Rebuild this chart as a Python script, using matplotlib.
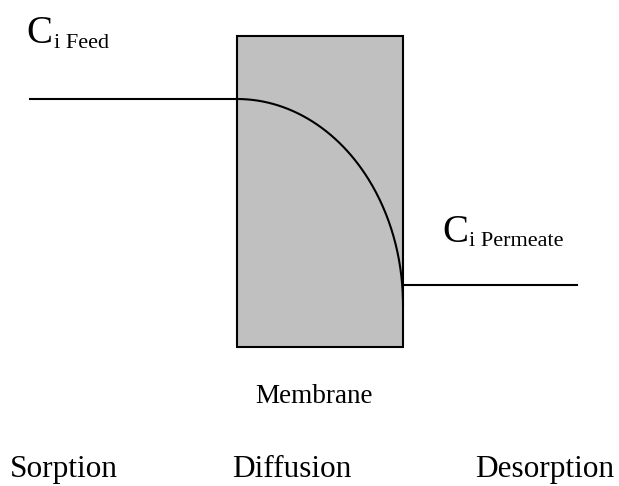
import numpy as np
import matplotlib.pyplot as plt
from matplotlib.patches import Rectangle

plt.rcParams['font.family'] = ['Liberation Serif', 'DejaVu Serif']

# diagram geometry (pixel coords, y down)
membrane_x = [237, 403]
membrane_y = [36, 347]
feed_x = [30, 237]
feed_y = 99
perm_x = [403, 577]
perm_y = 285
curve_bottom = 305

labels_bottom = ['Sorption', 'Diffusion', 'Desorption']
labels_x = [10, 232, 475]

fig = plt.figure(figsize=(6.19, 4.86), dpi=100)
ax = fig.add_axes([0, 0, 1, 1])
ax.set_xlim(0, 619)
ax.set_ylim(486, 0)
ax.axis('off')

ax.add_patch(Rectangle((membrane_x[0], membrane_y[0]),
                       membrane_x[1] - membrane_x[0], membrane_y[1] - membrane_y[0],
                       facecolor='#c0c0c0', edgecolor='black', lw=1.5))

ax.plot(feed_x, [feed_y, feed_y], 'k', lw=1.5)
ax.plot(perm_x, [perm_y, perm_y], 'k', lw=1.5)

# concentration profile inside membrane: quarter ellipse
t = np.linspace(0, np.pi / 2, 200)
a = membrane_x[1] - membrane_x[0]
b = curve_bottom - feed_y
ax.plot(membrane_x[0] + a * np.sin(t), curve_bottom - b * np.cos(t), 'k', lw=1.5)

ax.text(26, 43, 'C', fontsize=28, va='baseline')
ax.text(54, 48, 'i Feed', fontsize=16, va='baseline')
ax.text(442, 242, 'C', fontsize=28, va='baseline')
ax.text(469, 246, 'i Permeate', fontsize=16, va='baseline')

ax.text(314, 403, 'Membrane', fontsize=19.5, ha='center', va='baseline')

for lab, x in zip(labels_bottom, labels_x):
    ax.text(x, 477, lab, fontsize=22.5, va='baseline')

fig.savefig('out.png', dpi=100)
